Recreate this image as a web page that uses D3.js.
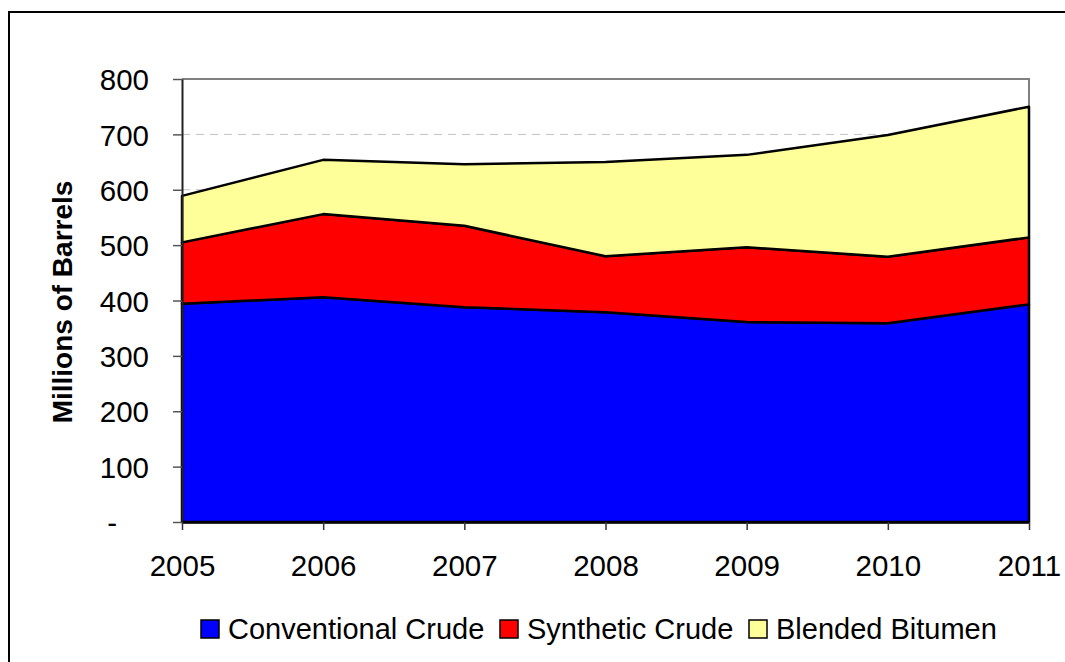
<!DOCTYPE html>
<html><head><meta charset="utf-8">
<script src="https://cdn.jsdelivr.net/npm/d3@7"></script>
<style>body{margin:0;background:#fff;}svg{display:block;font-family:"Liberation Sans",Arial,sans-serif;}</style>
</head><body>
<svg id="c" width="1065" height="662"></svg>
<script>
const years = ["2005","2006","2007","2008","2009","2010","2011"];
const conventional = [394, 406, 388, 379, 361, 359, 393];
const synthetic = [111, 150, 147, 101, 135, 120, 121];
const bitumen = [84, 98, 111, 170, 167, 220, 236];
const seriesNames = ["Conventional Crude","Synthetic Crude","Blended Bitumen"];
const seriesColors = ["#0000FF","#FF0000","#FFFF99"];
const yTicks = [0,100,200,300,400,500,600,700,800];
const yTickLabels = ["-","100","200","300","400","500","600","700","800"];

const svg = d3.select("#c");
const L = 182, R = 1029, T = 79, B = 522;

// outer frame
svg.append("rect").attr("x",9).attr("y",12).attr("width",1100).attr("height",700)
  .attr("fill","none").attr("stroke","#000").attr("stroke-width",2);

const x = d3.scalePoint().domain(years).range([L,R]);
const y = d3.scaleLinear().domain([0,800]).range([B,T]);

// gridlines
svg.append("g").selectAll("line").data(yTicks.filter(d=>d>0 && d<800)).join("line")
  .attr("x1",L).attr("x2",R).attr("y1",d=>y(d)).attr("y2",d=>y(d))
  .attr("stroke","#c0c0c0").attr("stroke-width",1).attr("stroke-dasharray","8,6");

// plot frame top/right
svg.append("path").attr("d",`M${L},${T}H${R}V${B}`).attr("fill","none")
  .attr("stroke","#808080").attr("stroke-width",2);

const data = years.map((yr,i)=>({year:yr, c:conventional[i], s:synthetic[i], b:bitumen[i]}));
const stack = d3.stack().keys(["c","s","b"])(data);
const area = d3.area().x(d=>x(d.data.year)).y0(d=>y(d[0])).y1(d=>y(d[1]));
svg.append("g").selectAll("path").data(stack).join("path")
  .attr("d",area).attr("fill",(d,i)=>seriesColors[i])
  .attr("stroke","#000").attr("stroke-width",2.5).attr("stroke-linejoin","round");

// y axis
const yAxis = d3.axisLeft(y).tickValues(yTicks).tickSize(9).tickSizeOuter(0)
  .tickFormat((d,i)=>yTickLabels[i]);
const gy = svg.append("g").attr("transform",`translate(${L},0)`).call(yAxis);
gy.select(".domain").attr("stroke","#222").attr("stroke-width",2);
gy.selectAll(".tick line").attr("stroke","#555").attr("stroke-width",1.5);
gy.selectAll(".tick text").attr("font-size",29.5).attr("fill","#000")
  .attr("x",d=>d===0?-65:-33).attr("dy","0.36em")
  .attr("font-family","'Liberation Sans',Arial,sans-serif");

// x axis
const xAxis = d3.axisBottom(x).tickSize(8).tickSizeOuter(0);
const gx = svg.append("g").attr("transform",`translate(0,${B})`).call(xAxis);
gx.select(".domain").attr("stroke","#000").attr("stroke-width",2.5);
gx.selectAll(".tick text").attr("font-size",29.5).attr("fill","#000").attr("y",33).attr("dy","0.71em")
  .attr("font-family","'Liberation Sans',Arial,sans-serif");
gx.selectAll(".tick line").attr("stroke","#333").attr("stroke-width",1.5);

// y title
svg.append("text").attr("transform","translate(72,302) rotate(-90)")
  .attr("text-anchor","middle").attr("font-size",28).attr("font-weight","bold")
  .text("Millions of Barrels");

// legend
const legX = [201, 500, 749];
const leg = svg.append("g").selectAll("g").data(seriesNames).join("g")
  .attr("transform",(d,i)=>`translate(${legX[i]},620)`);
leg.append("rect").attr("width",18).attr("height",18)
  .attr("fill",(d,i)=>seriesColors[i]).attr("stroke","#000").attr("stroke-width",1.5);
leg.append("text").attr("x",27).attr("y",18.5).attr("font-size",29).text(d=>d);
</script>
</body></html>
